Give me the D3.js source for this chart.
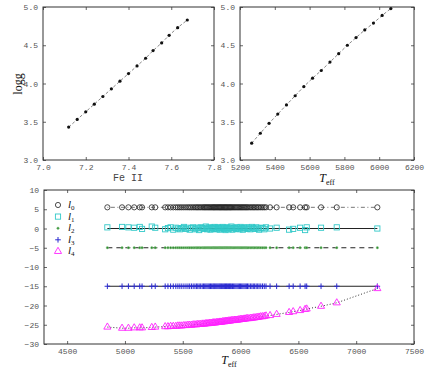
<!DOCTYPE html>
<html>
<head>
<meta charset="utf-8">
<script src="https://cdn.jsdelivr.net/npm/d3@7"></script>
<style>
  body { margin: 0; background: #fff; }
  .tk text { font-family: "Liberation Mono", monospace; font-size: 8px; fill: #555; }
  .tk line { stroke: #666; }
  .tk path { display: none; }
</style>
</head>
<body>
<svg width="436" height="382"></svg>
<script>
// top-left panel: Fe II vs logg
const feII = [7.12,7.16,7.20,7.24,7.28,7.32,7.36,7.40,7.44,7.48,7.515,7.555,7.59,7.63,7.675];
const loggFe = [3.43,3.53,3.63,3.73,3.83,3.93,4.03,4.13,4.23,4.33,4.43,4.53,4.63,4.73,4.83];
// top-right panel: Teff vs logg
const teffTop = [5267,5317,5367,5417,5467,5517,5567,5617,5667,5717,5767,5817,5867,5917,5967,6017,6067];
const loggTeff = [3.22,3.35,3.48,3.60,3.72,3.84,3.96,4.07,4.17,4.28,4.39,4.50,4.60,4.70,4.79,4.89,4.98];

// bottom panel: Teff of the sample
const teff = [
  4848,4975,5030,5080,5128,5148,5232,5262,5348,5372,
  5395,5418,5440,5458,5475,5492,5510,5528,5545,5560,
  5575,5590,5605,5618,5630,5642,5655,5668,5680,5690,
  5700,5710,5720,5730,5740,5750,5760,5768,5776,5785,
  5794,5803,5812,5820,5828,5836,5845,5854,5862,5870,
  5878,5886,5895,5904,5912,5920,5930,5940,5950,5960,
  5970,5980,5990,6000,6010,6020,6030,6040,6050,6060,
  6072,6085,6098,6110,6122,6135,6148,6160,6175,6190,
  6205,6220,6255,6312,6420,6455,6515,6558,6572,6696,
  6832,7183];
const l0Level = 5.5;
const l1 = [
  0.3,0.4,0.3,0.2,0.4,-0.1,0.5,0.2,-0.2,0.1,
  0.3,-0.3,0.2,0.0,-0.2,0.1,0.4,-0.1,0.2,-0.3,
  0.1,0.3,-0.2,0.0,0.2,-0.4,0.3,0.1,-0.1,0.2,
  0.5,-0.2,0.0,0.3,-0.3,0.1,0.2,-0.1,0.4,0.0,
  -0.2,0.3,0.1,-0.3,0.2,0.0,0.4,-0.1,0.2,-0.4,
  0.1,0.3,-0.2,0.0,0.2,0.5,-0.3,0.1,0.2,-0.1,
  0.3,0.0,-0.2,0.4,0.1,-0.3,0.2,0.0,0.3,-0.1,
  0.2,-0.2,0.4,0.1,-0.1,0.3,0.0,-0.3,0.2,0.1,
  -0.2,0.3,0.0,0.2,-0.3,-0.1,0.2,-0.4,0.3,0.2,
  0.3,0.0];
const l2Level = -5;
const l3Level = -15;
const l4 = [
  -25.6,-25.9,-25.9,-25.8,-25.8,-25.8,-25.7,-25.6,-25.5,-25.5,
  -25.4,-25.4,-25.4,-25.3,-25.3,-25.3,-25.2,-25.2,-25.1,-25.1,
  -25.1,-25.0,-25.0,-25.0,-24.9,-24.9,-24.9,-24.8,-24.8,-24.8,
  -24.7,-24.7,-24.7,-24.6,-24.6,-24.6,-24.5,-24.5,-24.5,-24.5,
  -24.4,-24.4,-24.4,-24.3,-24.3,-24.3,-24.2,-24.2,-24.2,-24.1,
  -24.1,-24.1,-24.0,-24.0,-24.0,-23.9,-23.9,-23.9,-23.8,-23.8,
  -23.8,-23.7,-23.7,-23.6,-23.6,-23.6,-23.5,-23.5,-23.4,-23.4,
  -23.4,-23.3,-23.3,-23.2,-23.2,-23.1,-23.1,-23.0,-22.9,-22.9,
  -22.8,-22.7,-22.6,-22.3,-21.8,-21.6,-21.3,-21.0,-20.9,-20.2,
  -19.3,-15.6];
const legendNames = ["0","1","2","3","4"];

const svg = d3.select("svg");

// draws frame + inside ticks on all four sides
function panel(x0, x1, y0, y1, xDom, yDom, xTicks, yTicks, xFmt, yFmt) {
  const x = d3.scaleLinear().domain(xDom).range([x0, x1]);
  const y = d3.scaleLinear().domain(yDom).range([y1, y0]);
  const g = svg.append("g");
  g.append("g").attr("class","tk").attr("transform",`translate(0,${y1})`)
    .call(d3.axisBottom(x).tickValues(xTicks).tickFormat(xFmt).tickSizeInner(-3).tickSizeOuter(0).tickPadding(4));
  g.append("g").attr("class","tk").attr("transform",`translate(0,${y0})`)
    .call(d3.axisTop(x).tickValues(xTicks).tickFormat("").tickSizeInner(-3).tickSizeOuter(0));
  g.append("g").attr("class","tk").attr("transform",`translate(${x0},0)`)
    .call(d3.axisLeft(y).tickValues(yTicks).tickFormat(yFmt).tickSizeInner(-3).tickSizeOuter(0).tickPadding(5));
  g.append("g").attr("class","tk").attr("transform",`translate(${x1},0)`)
    .call(d3.axisRight(y).tickValues(yTicks).tickFormat("").tickSizeInner(-3).tickSizeOuter(0));
  g.append("rect").attr("x",x0).attr("y",y0).attr("width",x1-x0).attr("height",y1-y0)
    .attr("fill","none").attr("stroke","#333").attr("stroke-width",1);
  return {x, y, g};
}

const f1 = d3.format(".1f");
const fd = d3.format("d");

// top-left
const pA = panel(43, 214, 7, 160, [7.0,7.8], [3.0,5.0],
  [7.0,7.2,7.4,7.6,7.8], [3.0,3.5,4.0,4.5,5.0], f1, f1);
const ptsA = feII.map((v,i)=>[v, loggFe[i]]);
pA.g.append("path").datum(ptsA)
  .attr("d", d3.line().x(d=>pA.x(d[0])).y(d=>pA.y(d[1])))
  .attr("fill","none").attr("stroke","#888").attr("stroke-dasharray","3,2");
pA.g.selectAll("circle.p").data(ptsA).join("circle")
  .attr("cx",d=>pA.x(d[0])).attr("cy",d=>pA.y(d[1])).attr("r",1.6).attr("fill","#111");

// top-right
const pB = panel(240, 414, 7, 160, [5200,6200], [3.0,5.0],
  [5200,5400,5600,5800,6000,6200], [3.0,3.5,4.0,4.5,5.0], fd, f1);
const ptsB = teffTop.map((v,i)=>[v, loggTeff[i]]);
pB.g.append("path").datum(ptsB)
  .attr("d", d3.line().x(d=>pB.x(d[0])).y(d=>pB.y(d[1])))
  .attr("fill","none").attr("stroke","#888").attr("stroke-dasharray","3,2");
pB.g.selectAll("circle.p").data(ptsB).join("circle")
  .attr("cx",d=>pB.x(d[0])).attr("cy",d=>pB.y(d[1])).attr("r",1.6).attr("fill","#111");

// axis titles for the top row
svg.append("text").attr("x",128).attr("y",181).attr("text-anchor","middle")
  .attr("font-family","Liberation Mono, monospace").attr("font-size",10).attr("fill","#444").text("Fe II");
svg.append("text").attr("transform","translate(22,84) rotate(-90)").attr("text-anchor","middle")
  .attr("font-family","Liberation Serif, serif").attr("font-size",12).attr("fill","#111").text("logg");
function teffLabel(cx, cy) {
  const t = svg.append("text").attr("x",cx).attr("y",cy).attr("text-anchor","middle")
    .attr("font-family","Liberation Serif, serif").attr("fill","#111");
  t.append("tspan").attr("font-style","italic").attr("font-size",12).text("T");
  t.append("tspan").attr("font-size",8).attr("dy",3).text("eff");
}
teffLabel(327, 182);

// bottom panel
const pC = panel(44, 414, 190, 344, [4300,7500], [-30,10],
  [4500,5000,5500,6000,6500,7000,7500], [-30,-25,-20,-15,-10,-5,0,5,10], fd, fd);
teffLabel(229, 364);
const xC = pC.x, yC = pC.y;

const rows0 = teff.map(t=>[t, l0Level]);
const rows1 = teff.map((t,i)=>[t, l1[i]]);
const rows2 = teff.map(t=>[t, l2Level]);
const rows3 = teff.map(t=>[t, l3Level]);
const rows4 = teff.map((t,i)=>[t, l4[i]]);
const line = d3.line().x(d=>xC(d[0])).y(d=>yC(d[1]));
const tmin = d3.min(teff), tmax = d3.max(teff);

// fit lines
pC.g.append("path").datum([[tmin,l0Level],[tmax,l0Level]]).attr("d",line)
  .attr("fill","none").attr("stroke","#777").attr("stroke-dasharray","1,2.5,4,2.5");
pC.g.append("path").datum([[tmin,0],[tmax,0]]).attr("d",line)
  .attr("fill","none").attr("stroke","#222").attr("stroke-width",1.2);
pC.g.append("path").datum([[tmin,l2Level],[tmax,l2Level]]).attr("d",line)
  .attr("fill","none").attr("stroke","#222").attr("stroke-dasharray","5,4");
pC.g.append("path").datum([[tmin,l3Level],[tmax,l3Level]]).attr("d",line)
  .attr("fill","none").attr("stroke","#222").attr("stroke-width",1.2);
pC.g.append("path").datum(rows4).attr("d",line)
  .attr("fill","none").attr("stroke","#333").attr("stroke-dasharray","1,2");

// markers
const sym = {
  0: g => g.append("circle").attr("r",2.6).attr("fill","none").attr("stroke","#222").attr("stroke-width",0.8),
  1: g => g.append("rect").attr("x",-2.6).attr("y",-2.6).attr("width",5.2).attr("height",5.2)
          .attr("fill","none").attr("stroke","#33c9c9").attr("stroke-width",0.9),
  2: g => g.append("circle").attr("r",1.2).attr("fill","#2a8a2a").attr("stroke","#9c9").attr("stroke-width",0.5),
  3: g => g.append("path").attr("d","M-2.8,0H2.8M0,-2.8V2.8").attr("stroke","#2a2ad0").attr("stroke-width",1),
  4: g => g.append("path").attr("d",d3.symbol(d3.symbolTriangle, 22)())
          .attr("fill","none").attr("stroke","#ff22ff").attr("stroke-width",0.9)
};
[rows0, rows1, rows2, rows3, rows4].forEach((rows, k) => {
  pC.g.append("g").selectAll("g").data(rows).join("g")
    .attr("transform", d => `translate(${xC(d[0])},${yC(d[1])})`)
    .each(function(){ sym[k](d3.select(this)); });
});

// legend
const leg = pC.g.append("g");
legendNames.forEach((n, i) => {
  const yy = 205 + i * 11.6;
  const s = leg.append("g").attr("transform", `translate(58,${yy})`);
  sym[i](s);
  const t = leg.append("text").attr("x",68).attr("y",yy+3)
    .attr("font-family","Liberation Serif, serif").attr("fill","#111");
  t.append("tspan").attr("font-style","italic").attr("font-size",11).text("l");
  t.append("tspan").attr("font-size",7).attr("dy",2).text(n);
});
</script>
</body>
</html>
